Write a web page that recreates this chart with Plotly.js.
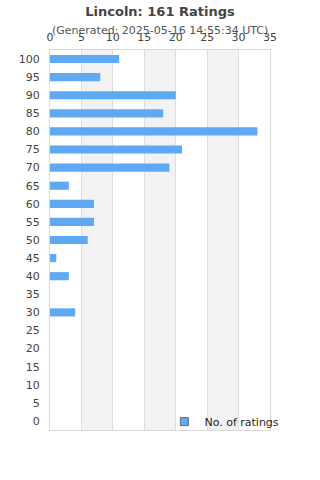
<!DOCTYPE html>
<html><head><meta charset="utf-8">
<script src="https://cdn.plot.ly/plotly-3.0.1.min.js"></script>
<style>html,body{margin:0;padding:0;background:#fff}#chart{width:320px;height:480px}</style>
</head><body><div id="chart"></div>
<script>
const scores = ['100','95','90','85','80','75','70','65','60','55','50','45','40','35','30','25','20','15','10','5','0'];
const counts = [11,8,20,18,33,21,19,3,7,7,6,1,3,0,4,0,0,0,0,0,0];
const xTicks = [0,5,10,15,20,25,30,35];
const bands = [[5,10],[15,20],[25,30]];
const titleText = 'Lincoln: 161 Ratings';
const subtitleText = '(Generated: 2025-05-16 14:55:34 UTC)';
const seriesName = 'No. of ratings';

const barColor = '#5fa8f3';
const font = 'DejaVu Sans, sans-serif';

const shapes = bands.map(b => ({type:'rect', xref:'x', yref:'paper', x0:b[0], x1:b[1], y0:0, y1:1, fillcolor:'#f2f2f2', line:{width:0}, layer:'below'}));

const data = [
  {type:'bar', orientation:'h', y:scores, x:counts, marker:{color:barColor}, width:0.45, showlegend:false, hoverinfo:'x+y'},
  {type:'scatter', mode:'markers', x:[null], y:[null], name:seriesName, marker:{symbol:'square', size:8, color:barColor, line:{color:'#666', width:1}}, showlegend:true}
];

const layout = {
  width:320, height:480,
  margin:{l:50, r:50, t:50, b:50},
  paper_bgcolor:'#fff', plot_bgcolor:'rgba(0,0,0,0)',
  font:{family:font, size:11, color:'#444'},
  title:{text:'<b>'+titleText+'</b>', x:0.5, xanchor:'center', y:0.977, yanchor:'middle', font:{size:13, color:'#444', family:font}},
  annotations:[{text:subtitleText, xref:'paper', yref:'paper', x:0.5, y:1, yshift:20, xanchor:'center', yanchor:'middle', showarrow:false, font:{size:11, color:'#555', family:font}}],
  xaxis:{side:'top', range:[0,35], tickvals:xTicks, ticktext:xTicks.map(String), showgrid:true, gridcolor:'#dddddd', gridwidth:1, zeroline:false, showline:true, linecolor:'#d9d9d9', mirror:true, ticks:'', ticklen:0, ticklabelstandoff:4, tickfont:{size:11, color:'#444'}, fixedrange:true},
  yaxis:{type:'category', categoryorder:'array', categoryarray:scores.slice().reverse(), showgrid:false, showline:true, linecolor:'#d9d9d9', mirror:true, ticks:'', tickfont:{size:11, color:'#444'}, ticklabelstandoff:7, fixedrange:true},
  shapes:shapes,
  legend:{x:0.52, y:0.022, xanchor:'left', yanchor:'middle', bgcolor:'rgba(0,0,0,0)', font:{size:11, color:'#222'}},
  bargap:0.55
};
Plotly.newPlot('chart', data, layout, {displayModeBar:false, staticPlot:true});
</script></body></html>
